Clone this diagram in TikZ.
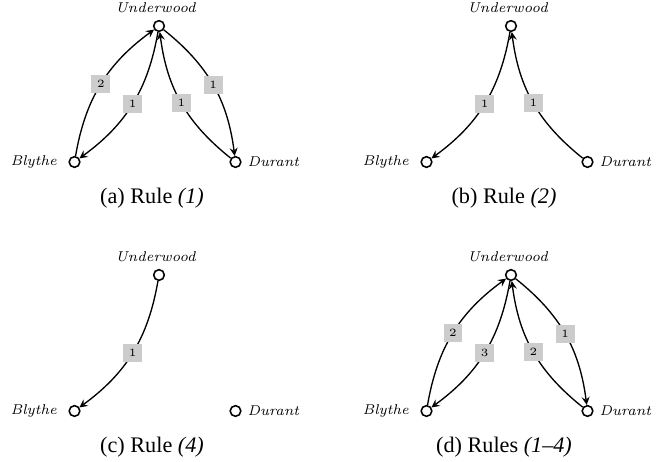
\documentclass[tikz,border=0pt]{standalone}
\usepackage{fontspec}
\newfontfamily\capfont{Liberation Serif}
\usetikzlibrary{positioning}

\tikzset{
  person/.style={circle,draw,line width=0.7pt,minimum size=4.8pt,inner sep=0pt},
  who/.style={font=\fontsize{6.4}{7}\selectfont\itshape,inner sep=0pt},
  weight/.style={fill=black!20,font=\tiny,minimum width=8.5pt,minimum height=8pt,inner sep=0pt},
  subcap/.style={font=\capfont,inner sep=0pt},
  rel/.style={->,>=stealth,line width=0.6pt,bend left=22},
}

\begin{document}
\begin{tikzpicture}[x=0.45pt,y=-0.45pt]
\useasboundingbox (0,0) rectangle (665,462);
% (a) rule 1
\node[person,label={[who,label distance=2.8pt,xshift=-1.5pt]above:Underwood}] (ua) at (159,26) {};
\node[person,label={[who,label distance=5pt]left:Blythe}] (ba) at (74.5,162) {};
\node[person,label={[who,label distance=2.5pt]right:Durant}] (da) at (235.5,162) {};
\node[subcap] (capa) at (152,198) {(a) Rule \textit{(1)}};
\draw[rel] (ba) to node[weight] {2} (ua);
\draw[rel] (ua) to node[weight] {1} (ba);
\draw[rel] (da) to node[weight] {1} (ua);
\draw[rel] (ua) to node[weight] {1} (da);
% (b) rule 2
\begin{scope}[shift={(352,0)}]
\node[person,label={[who,label distance=2.8pt,xshift=-1.5pt]above:Underwood}] (ub) at (159,26) {};
\node[person,label={[who,label distance=5pt]left:Blythe}] (bb) at (74.5,162) {};
\node[person,label={[who,label distance=2.5pt]right:Durant}] (db) at (235.5,162) {};
\node[subcap] (capb) at (152,198) {(b) Rule \textit{(2)}};
\draw[rel] (ub) to node[weight] {1} (bb);
\draw[rel] (db) to node[weight] {1} (ub);
\end{scope}
% (c) rule 4
\begin{scope}[shift={(0,249)}]
\node[person,label={[who,label distance=2.8pt,xshift=-1.5pt]above:Underwood}] (uc) at (159,26) {};
\node[person,label={[who,label distance=5pt]left:Blythe}] (bc) at (74.5,162) {};
\node[person,label={[who,label distance=2.5pt]right:Durant}] (dc) at (235.5,162) {};
\node[subcap] (capc) at (152,198) {(c) Rule \textit{(4)}};
\draw[rel] (uc) to node[weight] {1} (bc);
\end{scope}
% (d) rules 1-4
\begin{scope}[shift={(352,249)}]
\node[person,label={[who,label distance=2.8pt,xshift=-1.5pt]above:Underwood}] (ud) at (159,26) {};
\node[person,label={[who,label distance=5pt]left:Blythe}] (bd) at (74.5,162) {};
\node[person,label={[who,label distance=2.5pt]right:Durant}] (dd) at (235.5,162) {};
\node[subcap] (capd) at (152,198) {(d) Rules \textit{(1–4)}};
\draw[rel] (bd) to node[weight] {2} (ud);
\draw[rel] (ud) to node[weight] {3} (bd);
\draw[rel] (dd) to node[weight] {2} (ud);
\draw[rel] (ud) to node[weight] {1} (dd);
\end{scope}
\end{tikzpicture}
\end{document}
